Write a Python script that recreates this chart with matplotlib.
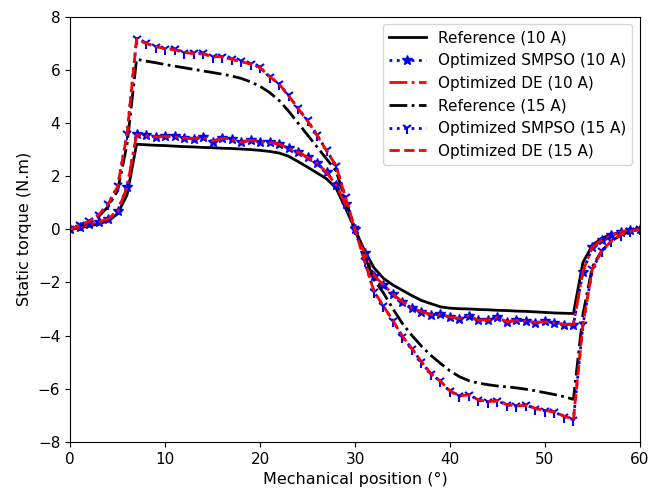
import matplotlib
matplotlib.use('Agg')
import matplotlib.pyplot as plt
import numpy as np

# mechanical position, one sample per degree
position = np.arange(0, 61)

ref_10a = [0.0, 0.05, 0.12, 0.2, 0.32, 0.58, 1.3, 3.2, 3.18, 3.16, 3.15, 3.13, 3.11, 3.1, 3.08,
           3.07, 3.05, 3.04, 3.02, 3.0, 2.97, 2.93, 2.87, 2.75, 2.55, 2.34, 2.12, 1.9, 1.55, 0.8,
           0.0, -0.8, -1.45, -1.85, -2.1, -2.3, -2.5, -2.68, -2.8, -2.92, -2.97, -2.99, -3.0,
           -3.02, -3.03, -3.05, -3.06, -3.08, -3.09, -3.11, -3.13, -3.15, -3.16, -3.17, -1.25,
           -0.6, -0.33, -0.2, -0.11, -0.05, 0.0]

smpso_10a = [0.0, 0.08, 0.2, 0.27, 0.4, 0.68, 1.6, 3.58, 3.53, 3.47, 3.5, 3.5, 3.42, 3.41, 3.47,
             3.3, 3.45, 3.4, 3.27, 3.36, 3.3, 3.28, 3.22, 3.05, 2.9, 2.72, 2.5, 2.15, 1.68, 0.95,
             0.02, -0.9, -1.75, -2.1, -2.45, -2.74, -2.97, -3.1, -3.22, -3.2, -3.3, -3.37, -3.25,
             -3.43, -3.42, -3.3, -3.5, -3.43, -3.44, -3.52, -3.47, -3.52, -3.6, -3.6, -1.6,
             -0.67, -0.41, -0.23, -0.1, -0.04, 0.0]

de_10a = [0.0, 0.07, 0.19, 0.27, 0.39, 0.67, 1.58, 3.56, 3.52, 3.48, 3.49, 3.48, 3.43, 3.41, 3.45,
          3.32, 3.43, 3.39, 3.28, 3.35, 3.3, 3.27, 3.21, 3.05, 2.9, 2.71, 2.49, 2.14, 1.67, 0.94,
          0.01, -0.9, -1.74, -2.1, -2.44, -2.73, -2.96, -3.1, -3.21, -3.21, -3.3, -3.36, -3.27,
          -3.42, -3.41, -3.32, -3.48, -3.43, -3.45, -3.51, -3.48, -3.52, -3.58, -3.58, -1.58,
          -0.66, -0.4, -0.22, -0.1, -0.04, 0.0]

ref_15a = [0.0, 0.12, 0.25, 0.48, 0.85, 1.45, 3.2, 6.4, 6.33, 6.27, 6.2, 6.14, 6.08, 6.02, 5.96,
           5.9, 5.84, 5.77, 5.68, 5.55, 5.38, 5.15, 4.85, 4.45, 4.0, 3.55, 3.1, 2.65, 2.2, 1.1,
           0.0, -1.0, -1.9, -2.4, -3.0, -3.55, -4.0, -4.4, -4.75, -5.05, -5.33, -5.55, -5.7,
           -5.79, -5.85, -5.9, -5.93, -5.97, -6.02, -6.08, -6.15, -6.22, -6.3, -6.4, -3.2,
           -1.4, -0.8, -0.45, -0.22, -0.08, 0.0]

smpso_15a = [0.0, 0.15, 0.3, 0.55, 0.95, 1.62, 3.6, 7.17, 7.0, 6.87, 6.8, 6.78, 6.65, 6.62, 6.62,
             6.48, 6.5, 6.4, 6.32, 6.23, 6.1, 5.75, 5.48, 5.04, 4.55, 4.1, 3.55, 2.97, 2.4, 1.2,
             0.0, -1.2, -2.35, -2.9, -3.45, -4.05, -4.5, -5.0, -5.45, -5.72, -6.1, -6.28, -6.22,
             -6.44, -6.5, -6.45, -6.62, -6.66, -6.62, -6.75, -6.83, -6.88, -7.05, -7.17, -3.6,
             -1.5, -0.8, -0.45, -0.2, -0.07, 0.0]

de_15a = [0.0, 0.14, 0.29, 0.54, 0.94, 1.6, 3.58, 7.15, 7.0, 6.88, 6.79, 6.76, 6.66, 6.61, 6.6,
          6.5, 6.49, 6.4, 6.31, 6.22, 6.08, 5.75, 5.47, 5.03, 4.55, 4.08, 3.54, 2.96, 2.39, 1.19,
          0.0, -1.19, -2.34, -2.9, -3.44, -4.03, -4.5, -4.99, -5.43, -5.72, -6.08, -6.27, -6.23,
          -6.42, -6.49, -6.46, -6.6, -6.65, -6.63, -6.74, -6.82, -6.88, -7.03, -7.15, -3.58,
          -1.49, -0.8, -0.44, -0.2, -0.07, 0.0]

fig = plt.figure(figsize=(6.49, 4.92), dpi=100)
ax = fig.add_axes([0.108, 0.102, 0.878, 0.864])

ax.plot(position, ref_10a, color='black', linestyle='-', linewidth=2,
        label='Reference (10 A)')
ax.plot(position, smpso_10a, color='blue', linestyle=':', linewidth=2,
        marker='*', markersize=7, label='Optimized SMPSO (10 A)')
ax.plot(position, de_10a, color='red', linestyle='-.', linewidth=2,
        label='Optimized DE (10 A)')
ax.plot(position, ref_15a, color='black', linestyle='-.', linewidth=2,
        label='Reference (15 A)')
ax.plot(position, smpso_15a, color='blue', linestyle=':', linewidth=2,
        marker='1', markersize=8, markeredgewidth=1.5, label='Optimized SMPSO (15 A)')
ax.plot(position, de_15a, color='red', linestyle='--', linewidth=2,
        label='Optimized DE (15 A)')

ax.set_xlim(0, 60)
ax.set_ylim(-8, 8)
ax.set_xlabel('Mechanical position (°)', fontsize=11.5)
ax.set_ylabel('Static torque (N.m)', fontsize=11.5)
ax.tick_params(labelsize=11)
ax.legend(loc='upper right', fontsize=11, handlelength=2.4)

fig.savefig('out.png', dpi=100)
